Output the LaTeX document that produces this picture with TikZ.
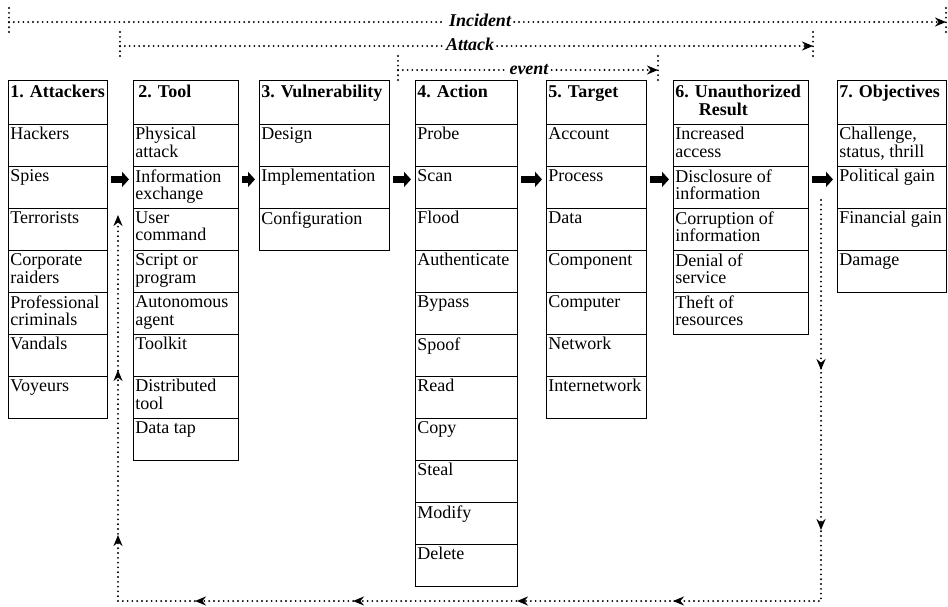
\documentclass[tikz,border=0pt]{standalone}
\usepackage{fontspec}
\setmainfont{Liberation Serif}
\usetikzlibrary{arrows.meta,decorations.markings}

% text of one cell: fixed height, set from the top
\newcommand{\cellfont}{\fontsize{18}{17.8}\selectfont}
\newcommand{\cellbox}[2]{\parbox[t][36pt][t]{#1}{\raggedright\hyphenpenalty=10000 #2}}
\newcommand{\headbox}[2]{\parbox[t][38pt][t]{#1}{\vspace{2pt}\raggedright\bfseries #2}}

\begin{document}
\begin{tikzpicture}[x=1pt, y=-1pt,
  cell/.style={draw, line width=0.8pt, anchor=north west, inner xsep=2pt, inner ysep=3pt, font=\cellfont},
  span/.style={line width=2.1pt, dash pattern=on 0pt off 4.8pt, line cap=round},
  tip/.style={-{Stealth[length=11pt,width=9pt]}},
  flow/.style={line width=7.5pt, -{Triangle[length=7pt,width=15pt]}, shorten <=3pt, shorten >=4pt},
  lbl/.style={anchor=base, inner xsep=3pt, font=\fontsize{18}{18}\selectfont\bfseries\itshape}
]
\useasboundingbox (0,0) rectangle (948,606);

% Spans over the top
\coordinate (incL) at (9,22);
\coordinate (incR) at (946,22);
\coordinate (attL) at (120,46);
\coordinate (attR) at (813,46);
\coordinate (evL) at (398,70);
\coordinate (evR) at (658,70);

\node[lbl] (incident) at (480,26) {Incident};
\node[lbl] (attack) at (470,50) {Attack};
\node[lbl] (event) at (529,74) {event};

\draw[span] (incL) -- (incL -| incident.west);
\draw[span, tip] (incL -| incident.east) -- (incR);
\draw[span] (attL) -- (attL -| attack.west);
\draw[span, tip] (attL -| attack.east) -- (attR);
\draw[span] (evL) -- (evL -| event.west);
\draw[span, tip] (evL -| event.east) -- (evR);

% end ticks
\foreach \c in {incL, incR, attL, attR, evL, evR}
  \draw[span] ([yshift=14pt]\c) -- ([yshift=-14pt]\c);

% 1. Attackers
\node[cell] (att0) at (8,80) {\headbox{95pt}{1. Attackers}};
\foreach \txt [count=\i] in {Hackers, Spies, Terrorists, {Corporate\\raiders},
    {Professional\\criminals}, Vandals, Voyeurs}
  \node[cell] (att\i) at (8,{124+42*(\i-1)}) {\cellbox{95pt}{\txt}};

% 2. Tool
\node[cell] (tool0) at (133,80) {\headbox{101pt}{\hspace*{3pt}2. Tool}};
\foreach \txt [count=\i] in {{Physical\\attack}, {Information\\exchange}, {User\\command},
    {Script or\\program}, {Autonomous\\agent}, Toolkit, {Distributed\\tool}, Data tap}
  \node[cell] (tool\i) at (133,{124+42*(\i-1)}) {\cellbox{101pt}{\txt}};

% 3. Vulnerability
\node[cell] (vul0) at (259,80) {\headbox{126pt}{3. Vulnerability}};
\foreach \txt [count=\i] in {Design, Implementation, Configuration}
  \node[cell] (vul\i) at (259,{124+42*(\i-1)}) {\cellbox{126pt}{\txt}};

% 4. Action
\node[cell] (act0) at (415,80) {\headbox{98pt}{4. Action}};
\foreach \txt [count=\i] in {Probe, Scan, Flood, Authenticate, Bypass, Spoof, Read,
    Copy, Steal, Modify, Delete}
  \node[cell] (act\i) at (415,{124+42*(\i-1)}) {\cellbox{98pt}{\txt}};

% 5. Target
\node[cell] (tgt0) at (546,80) {\headbox{96pt}{5. Target}};
\foreach \txt [count=\i] in {Account, Process, Data, Component, Computer, Network,
    Internetwork}
  \node[cell] (tgt\i) at (546,{124+42*(\i-1)}) {\cellbox{96pt}{\txt}};

% 6. Unauthorized Result
\node[cell] (res0) at (673,80) {\headbox{131pt}{6. Unauthorized\\\hspace*{1.3em}Result}};
\foreach \txt [count=\i] in {{Increased\\access}, {Disclosure of\\information},
    {Corruption of\\information}, {Denial of\\service}, {Theft of\\resources}}
  \node[cell] (res\i) at (673,{124+42*(\i-1)}) {\cellbox{131pt}{\txt}};

% 7. Objectives
\node[cell] (obj0) at (837,80) {\headbox{105pt}{7. Objectives}};
\foreach \txt [count=\i] in {{Challenge,\\status, thrill}, Political~gain,
    Financial~gain, Damage}
  \node[cell] (obj\i) at (837,{124+42*(\i-1)}) {\cellbox{105pt}{\txt}};

% block arrows from column to column
\foreach \a/\b in {att2/tool2, tool2/vul2, vul2/act2, act2/tgt2, tgt2/res2, res2/obj2}
  \draw[flow] ([yshift=8pt]\a.east) -- ([yshift=8pt]\b.west);

% way back from the result to the tool
\coordinate (ret0) at (821,200);
\coordinate (ret1) at (821,601);
\coordinate (ret2) at (118,601);
\coordinate (ret3) at (118,215);
\draw[span, tip, postaction={decorate}, decoration={markings,
    mark=at position 170pt with {\arrow{Stealth[length=11pt,width=9pt]}},
    mark=at position 330pt with {\arrow{Stealth[length=11pt,width=9pt]}},
    mark=at position 549pt with {\arrow{Stealth[length=11pt,width=9pt]}},
    mark=at position 705pt with {\arrow{Stealth[length=11pt,width=9pt]}},
    mark=at position 869pt with {\arrow{Stealth[length=11pt,width=9pt]}},
    mark=at position 1027pt with {\arrow{Stealth[length=11pt,width=9pt]}},
    mark=at position 1170pt with {\arrow{Stealth[length=11pt,width=9pt]}},
    mark=at position 1335pt with {\arrow{Stealth[length=11pt,width=9pt]}}}]
  (ret0) -- (ret1) -- (ret2) -- (ret3);

\end{tikzpicture}
\end{document}
